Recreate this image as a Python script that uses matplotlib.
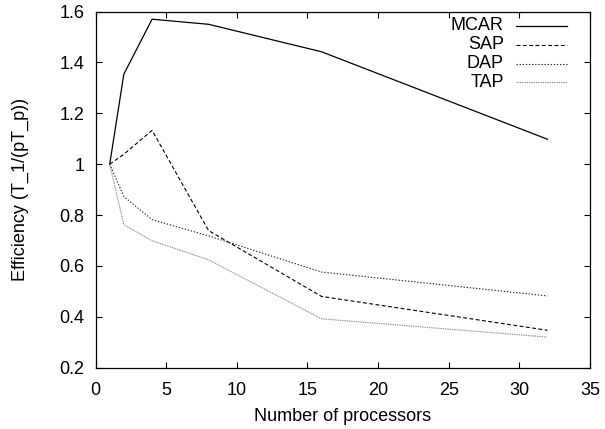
import numpy as np
import matplotlib
matplotlib.use("Agg")
import matplotlib.pyplot as plt
from matplotlib.ticker import FormatStrFormatter

plt.rcParams['font.family'] = ['Liberation Sans', 'DejaVu Sans']

procs = [1, 2, 4, 8, 16, 32]
mcar = [1.0, 1.354, 1.57, 1.55, 1.442, 1.098]
sap = [1.0, 1.039, 1.133, 0.739, 0.48, 0.347]
dap = [1.0, 0.873, 0.782, 0.718, 0.576, 0.482]
tap = [1.0, 0.762, 0.699, 0.624, 0.392, 0.32]

names = ["MCAR", "SAP", "DAP", "TAP"]
series = [mcar, sap, dap, tap]
styles = [
    dict(color="black", linestyle="-", linewidth=0.9),
    dict(color="black", linestyle=(0, (3.5, 2.2)), linewidth=0.8),
    dict(color="#222222", linestyle=(0, (1.2, 1.6)), linewidth=0.8),
    dict(color="#777777", linestyle=(0, (0.8, 0.8)), linewidth=0.8),
]

fig = plt.figure(figsize=(6.05, 4.29), dpi=100)
ax = fig.add_axes([0.158, 0.143, 0.817, 0.830])

for name, ys, st in zip(names, series, styles):
    ax.plot(procs, ys, **st)

# gnuplot-style key: right-aligned text, sample to the right
for i, (name, st) in enumerate(zip(names, styles)):
    yk = 0.960 - i * 0.053
    ax.text(0.826, yk, name, transform=ax.transAxes, ha="right", va="center", fontsize=13)
    ax.plot([0.850, 0.953], [yk, yk], transform=ax.transAxes, **st)

ax.set_xlim(0, 35)
ax.set_ylim(0.2, 1.6)
ax.set_xticks(np.arange(0, 36, 5))
ax.set_yticks(np.arange(0.2, 1.61, 0.2))
ax.yaxis.set_major_formatter(FormatStrFormatter('%g'))
ax.tick_params(direction="in", top=True, right=True, length=4, width=0.8, labelsize=13)
ax.tick_params(axis="y", pad=8)
ax.tick_params(axis="x", pad=10)
for s in ax.spines.values():
    s.set_linewidth(0.9)

ax.set_xlabel("Number of processors", fontsize=13, labelpad=7)
ax.set_ylabel("Efficiency (T_1/(pT_p))", fontsize=13, labelpad=22)

plt.savefig("out.png", dpi=100)
